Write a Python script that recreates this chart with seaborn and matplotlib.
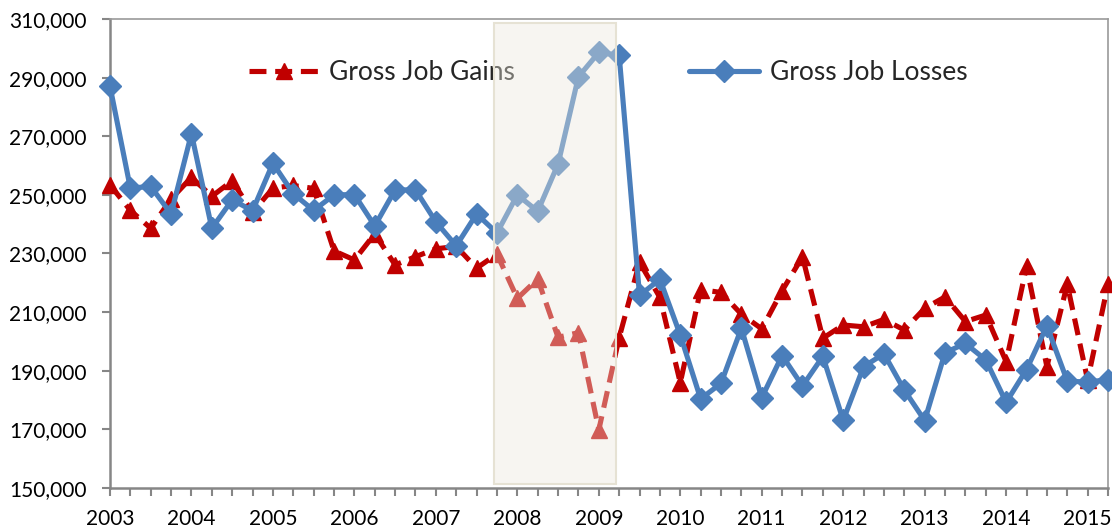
import numpy as np
import pandas as pd
import matplotlib
matplotlib.use("Agg")
import matplotlib.pyplot as plt
from matplotlib.patches import Rectangle
from matplotlib.ticker import FuncFormatter
import seaborn as sns

# ---------------- data ----------------
year_labels = ["2003", "2004", "2005", "2006", "2007", "2008", "2009",
               "2010", "2011", "2012", "2013", "2014", "2015"]

gross_job_gains = [253400, 244700, 238600, 248600, 256000, 249500, 254800, 244000, 252300, 253200,
                   252200, 230900, 227800, 236700, 226100, 228900, 231600, 232400, 225000, 229800,
                   214700, 221300, 201400, 203000, 169800, 201300, 227000, 215000, 185900, 217700,
                   216700, 209300, 204300, 217300, 228900, 201100, 205600, 205000, 207500, 203900,
                   211300, 215200, 206800, 209000, 193100, 225600, 191400, 219500, 186800, 219500]

gross_job_losses = [287100, 252300, 252900, 243500, 270900, 238600, 248300, 244600, 260800, 250400,
                    244700, 250000, 250100, 239400, 251700, 251700, 240800, 232600, 243500, 237000,
                    250000, 244400, 260500, 290300, 298600, 297600, 215700, 221200, 202200, 180400,
                    185700, 204500, 180800, 195200, 184800, 194900, 173100, 191400, 195800, 183400,
                    173000, 196200, 199300, 193700, 179200, 190400, 205300, 186500, 186100, 187000]

series_names = ["Gross Job Gains", "Gross Job Losses"]

# recession shading (in category units / value units)
recession_start = 18.85
recession_end = 24.85
recession_low = 151400
recession_high = 308600

# ---------------- style ----------------
sns.set_style("white")
plt.rcParams["font.family"] = ["Lato", "DejaVu Sans"]

quarter_idx = np.arange(len(gross_job_gains))
df = pd.DataFrame({"q": quarter_idx, "gains": gross_job_gains, "losses": gross_job_losses})

fig = plt.figure(figsize=(11.12, 5.31), dpi=100)
ax = fig.add_axes([0.0989, 0.081, 0.8975, 0.8832])

red = "#C00000"
blue = "#4A7EBB"

sns.lineplot(data=df, x="q", y="gains", ax=ax, color=red, linewidth=3.7,
             linestyle=(0, (3.3, 1.7)), marker="^", markersize=12,
             markeredgecolor=red, markeredgewidth=1, clip_on=False, zorder=3,
             label=series_names[0])
sns.lineplot(data=df, x="q", y="losses", ax=ax, color=blue, linewidth=3.7,
             marker="D", markersize=11, markeredgecolor=blue, markeredgewidth=1,
             clip_on=False, zorder=4, label=series_names[1])

ax.set_xlim(0, len(gross_job_gains) - 1)
ax.set_ylim(150000, 310000)

# x ticks at every quarter, label every 4
ax.set_xticks(quarter_idx)
xt_labels = [year_labels[i // 4] if i % 4 == 0 else "" for i in quarter_idx]
ax.set_xticklabels(xt_labels)
ax.set_yticks(np.arange(150000, 310001, 20000))
ax.yaxis.set_major_formatter(FuncFormatter(lambda v, p: f"{int(v):,}"))

grey = "#868686"
ax.tick_params(axis="x", length=6, width=1.5, color=grey, pad=9,
               labelsize=15, labelcolor="#000000", direction="out", bottom=True)
ax.tick_params(axis="y", length=6, width=1.5, color=grey, pad=11,
               labelsize=15, labelcolor="#000000", direction="out", left=True)
for s in ["left", "bottom"]:
    ax.spines[s].set_color(grey)
    ax.spines[s].set_linewidth(1.8)
for s in ["top", "right"]:
    ax.spines[s].set_color("#9A9A9A")
    ax.spines[s].set_linewidth(1.2)

ax.set_xlabel("")
ax.set_ylabel("")
ax.grid(False)

# legend
handles, labels = ax.get_legend_handles_labels()
leg = ax.legend(handles, labels, loc="center", bbox_to_anchor=(0.499, 0.885),
                ncol=2, frameon=False, fontsize=19, handlelength=2.65,
                handletextpad=0.4, columnspacing=6.6)
leg.set_zorder(5)

# recession overlay box (semi-transparent, on top of lines)
rect = Rectangle((recession_start, recession_low), recession_end - recession_start,
                 recession_high - recession_low, facecolor="#ECE8DC", alpha=0.4,
                 edgecolor="none", zorder=6)
ax.add_patch(rect)
rect_edge = Rectangle((recession_start, recession_low), recession_end - recession_start,
                      recession_high - recession_low, facecolor="none",
                      edgecolor="#E6E2D4", linewidth=1.5, zorder=6)
ax.add_patch(rect_edge)

fig.savefig("out.png", dpi=100)
